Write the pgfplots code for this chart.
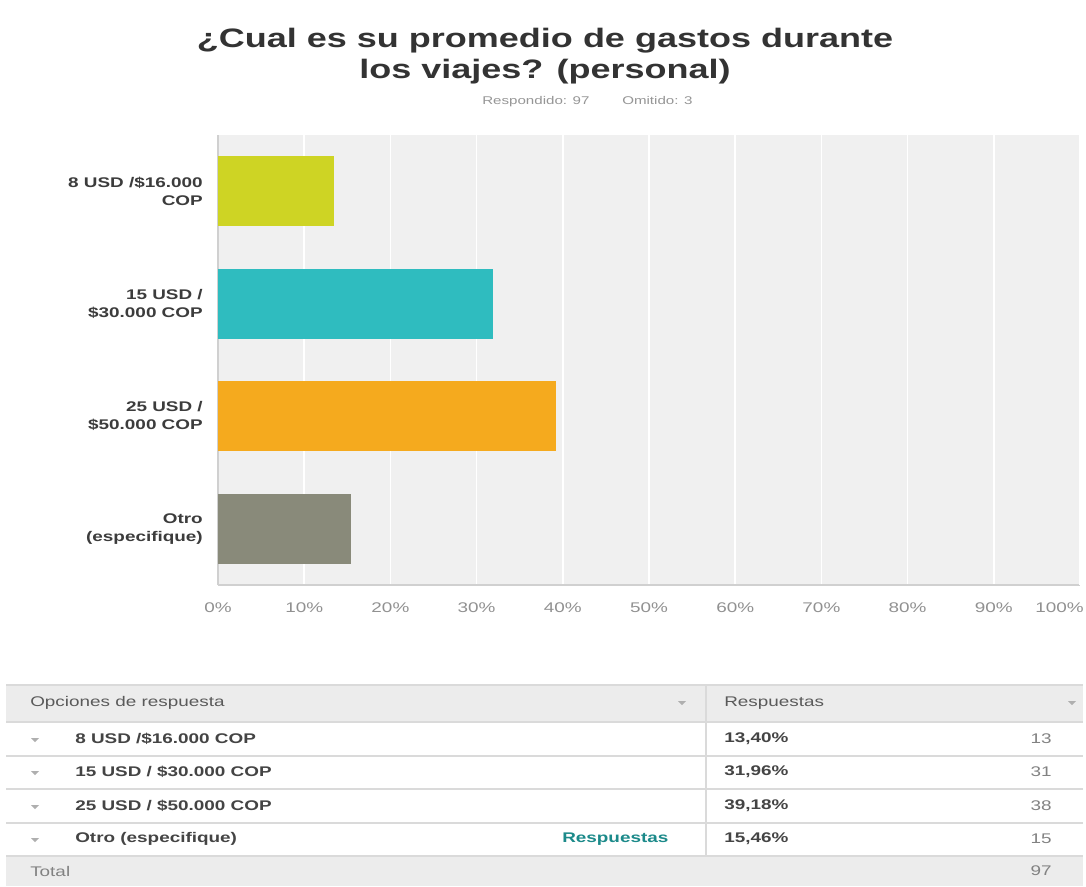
\documentclass[border=0pt]{standalone}
\usepackage{fontspec}
\setmainfont{Liberation Sans}[FakeStretch=1.35]
\usepackage{pgfplots}
\pgfplotsset{compat=1.18}
\definecolor{cA}{RGB}{206,212,36}
\definecolor{cB}{RGB}{47,188,191}
\definecolor{cC}{RGB}{245,170,30}
\definecolor{cD}{RGB}{137,138,122}
\definecolor{plotbg}{RGB}{240,240,240}
\definecolor{axisgrey}{RGB}{208,208,208}
\definecolor{titlegrey}{RGB}{51,51,51}
\definecolor{labgrey}{RGB}{60,60,60}
\definecolor{tickgrey}{RGB}{145,145,145}
\definecolor{subgrey}{RGB}{150,150,150}
\definecolor{hdrbg}{RGB}{236,236,236}
\definecolor{rulegrey}{RGB}{218,218,218}
\definecolor{txtdark}{RGB}{68,68,68}
\definecolor{txtmid}{RGB}{90,90,90}
\definecolor{txtlight}{RGB}{130,130,130}
\definecolor{triangrey}{RGB}{175,175,175}
\definecolor{teal}{RGB}{28,138,138}
\begin{document}
\begin{tikzpicture}
\useasboundingbox (0,0) rectangle (814.5pt,-664.5pt);
\fill[white] (0,0) rectangle (814.5pt,-664.5pt);
\begin{axis}[
  at={(163.5pt,-101.25pt)}, anchor=north west,
  scale only axis, width=646.5pt, height=337.5pt,
  xmin=0, xmax=100, ymin=0.5, ymax=4.5,
  axis background/.style={fill=plotbg},
  axis lines*=left,
  axis line style={-, draw=axisgrey, line width=1.2pt},
  xmajorgrids, grid style={white, line width=1.2pt},
  major tick length=0pt,
  xtick={0,10,20,30,40,50,60,70,80,90},
  xticklabels={0\%,10\%,20\%,30\%,40\%,50\%,60\%,70\%,80\%,90\%},
  extra x ticks={100}, extra x tick labels={100\%},
  extra x tick style={xticklabel style={anchor=east, xshift=3pt}},
  xticklabel style={anchor=center, yshift=-17.25pt, inner sep=0pt,
    text=tickgrey, font=\fontsize{10.5}{12}\selectfont},
  ytick={1,2,3,4},
  yticklabels={{Otro\\(especifique)},{25 USD /\\\$50.000 COP},{15 USD /\\\$30.000 COP},{8 USD /\$16.000\\COP}},
  yticklabel style={align=right, anchor=east, inner sep=0pt, xshift=-11.25pt,
    text=labgrey, font=\bfseries\fontsize{10.5}{13.5}\selectfont},
  clip=false,
]
\addplot[xbar, bar shift=0pt, bar width=52.5pt, fill=cA, draw=none] coordinates {(13.40,4)};
\addplot[xbar, bar shift=0pt, bar width=52.5pt, fill=cB, draw=none] coordinates {(31.96,3)};
\addplot[xbar, bar shift=0pt, bar width=52.5pt, fill=cC, draw=none] coordinates {(39.18,2)};
\addplot[xbar, bar shift=0pt, bar width=52.5pt, fill=cD, draw=none] coordinates {(15.46,1)};
\end{axis}
\begin{scope}[x=0.75pt,y=-0.75pt]
% title
\node[anchor=base, text=titlegrey, font=\bfseries\fontsize{20}{24}\selectfont] at (545,47) {¿Cual es su promedio de gastos durante};
\node[anchor=base, text=titlegrey, font=\bfseries\fontsize{20}{24}\selectfont] at (545,78) {los viajes? (personal)};
\node[anchor=base west, text=subgrey, font=\fontsize{8.4}{10}\selectfont, inner sep=0pt] at (482,104) {Respondido: 97};
\node[anchor=base west, text=subgrey, font=\fontsize{8.4}{10}\selectfont, inner sep=0pt] at (622,104) {Omitido: 3};
% table
\fill[hdrbg] (6,685) rectangle (1083,722);
\fill[hdrbg] (6,856) rectangle (1083,886);
\foreach \yy in {685,722,756,789,823,856} {\draw[rulegrey, line width=1pt] (6,\yy) -- (1083,\yy);}
\draw[rulegrey, line width=1pt] (706,685) -- (706,856);
\foreach \xx/\yy in {682/703,1072/703,35/740,35/773,35/807,35/840}
  {\fill[triangrey] (\xx-4,\yy-2) -- (\xx+4,\yy-2) -- (\xx,\yy+2) -- cycle;}
\begin{scope}[every node/.style={inner sep=0pt, font=\fontsize{10.5}{12}\selectfont}]
\node[anchor=west, text=txtmid] at (30,703) {Opciones de respuesta};
\node[anchor=west, text=txtmid] at (724,703) {Respuestas};
\node[anchor=west, text=txtdark, font=\bfseries\fontsize{10.5}{12}\selectfont] at (75,739) {8 USD /\$16.000 COP};
\node[anchor=west, text=txtdark, font=\bfseries\fontsize{10.5}{12}\selectfont] at (75,772) {15 USD / \$30.000 COP};
\node[anchor=west, text=txtdark, font=\bfseries\fontsize{10.5}{12}\selectfont] at (75,806) {25 USD / \$50.000 COP};
\node[anchor=west, text=txtdark, font=\bfseries\fontsize{10.5}{12}\selectfont] at (75,839) {Otro (especifique)};
\node[anchor=west, text=teal, font=\bfseries\fontsize{10.5}{12}\selectfont] at (562,839) {Respuestas};
\node[anchor=west, text=txtdark, font=\bfseries\fontsize{10.5}{12}\selectfont] at (724,739) {13,40\%};
\node[anchor=west, text=txtdark, font=\bfseries\fontsize{10.5}{12}\selectfont] at (724,772) {31,96\%};
\node[anchor=west, text=txtdark, font=\bfseries\fontsize{10.5}{12}\selectfont] at (724,806) {39,18\%};
\node[anchor=west, text=txtdark, font=\bfseries\fontsize{10.5}{12}\selectfont] at (724,839) {15,46\%};
\node[anchor=east, text=txtlight] at (1052,739) {13};
\node[anchor=east, text=txtlight] at (1052,772) {31};
\node[anchor=east, text=txtlight] at (1052,806) {38};
\node[anchor=east, text=txtlight] at (1052,839) {15};
\node[anchor=west, text=txtlight] at (30,871) {Total};
\node[anchor=east, text=txtlight] at (1052,871) {97};
\end{scope}
\end{scope}
\end{tikzpicture}
\end{document}
